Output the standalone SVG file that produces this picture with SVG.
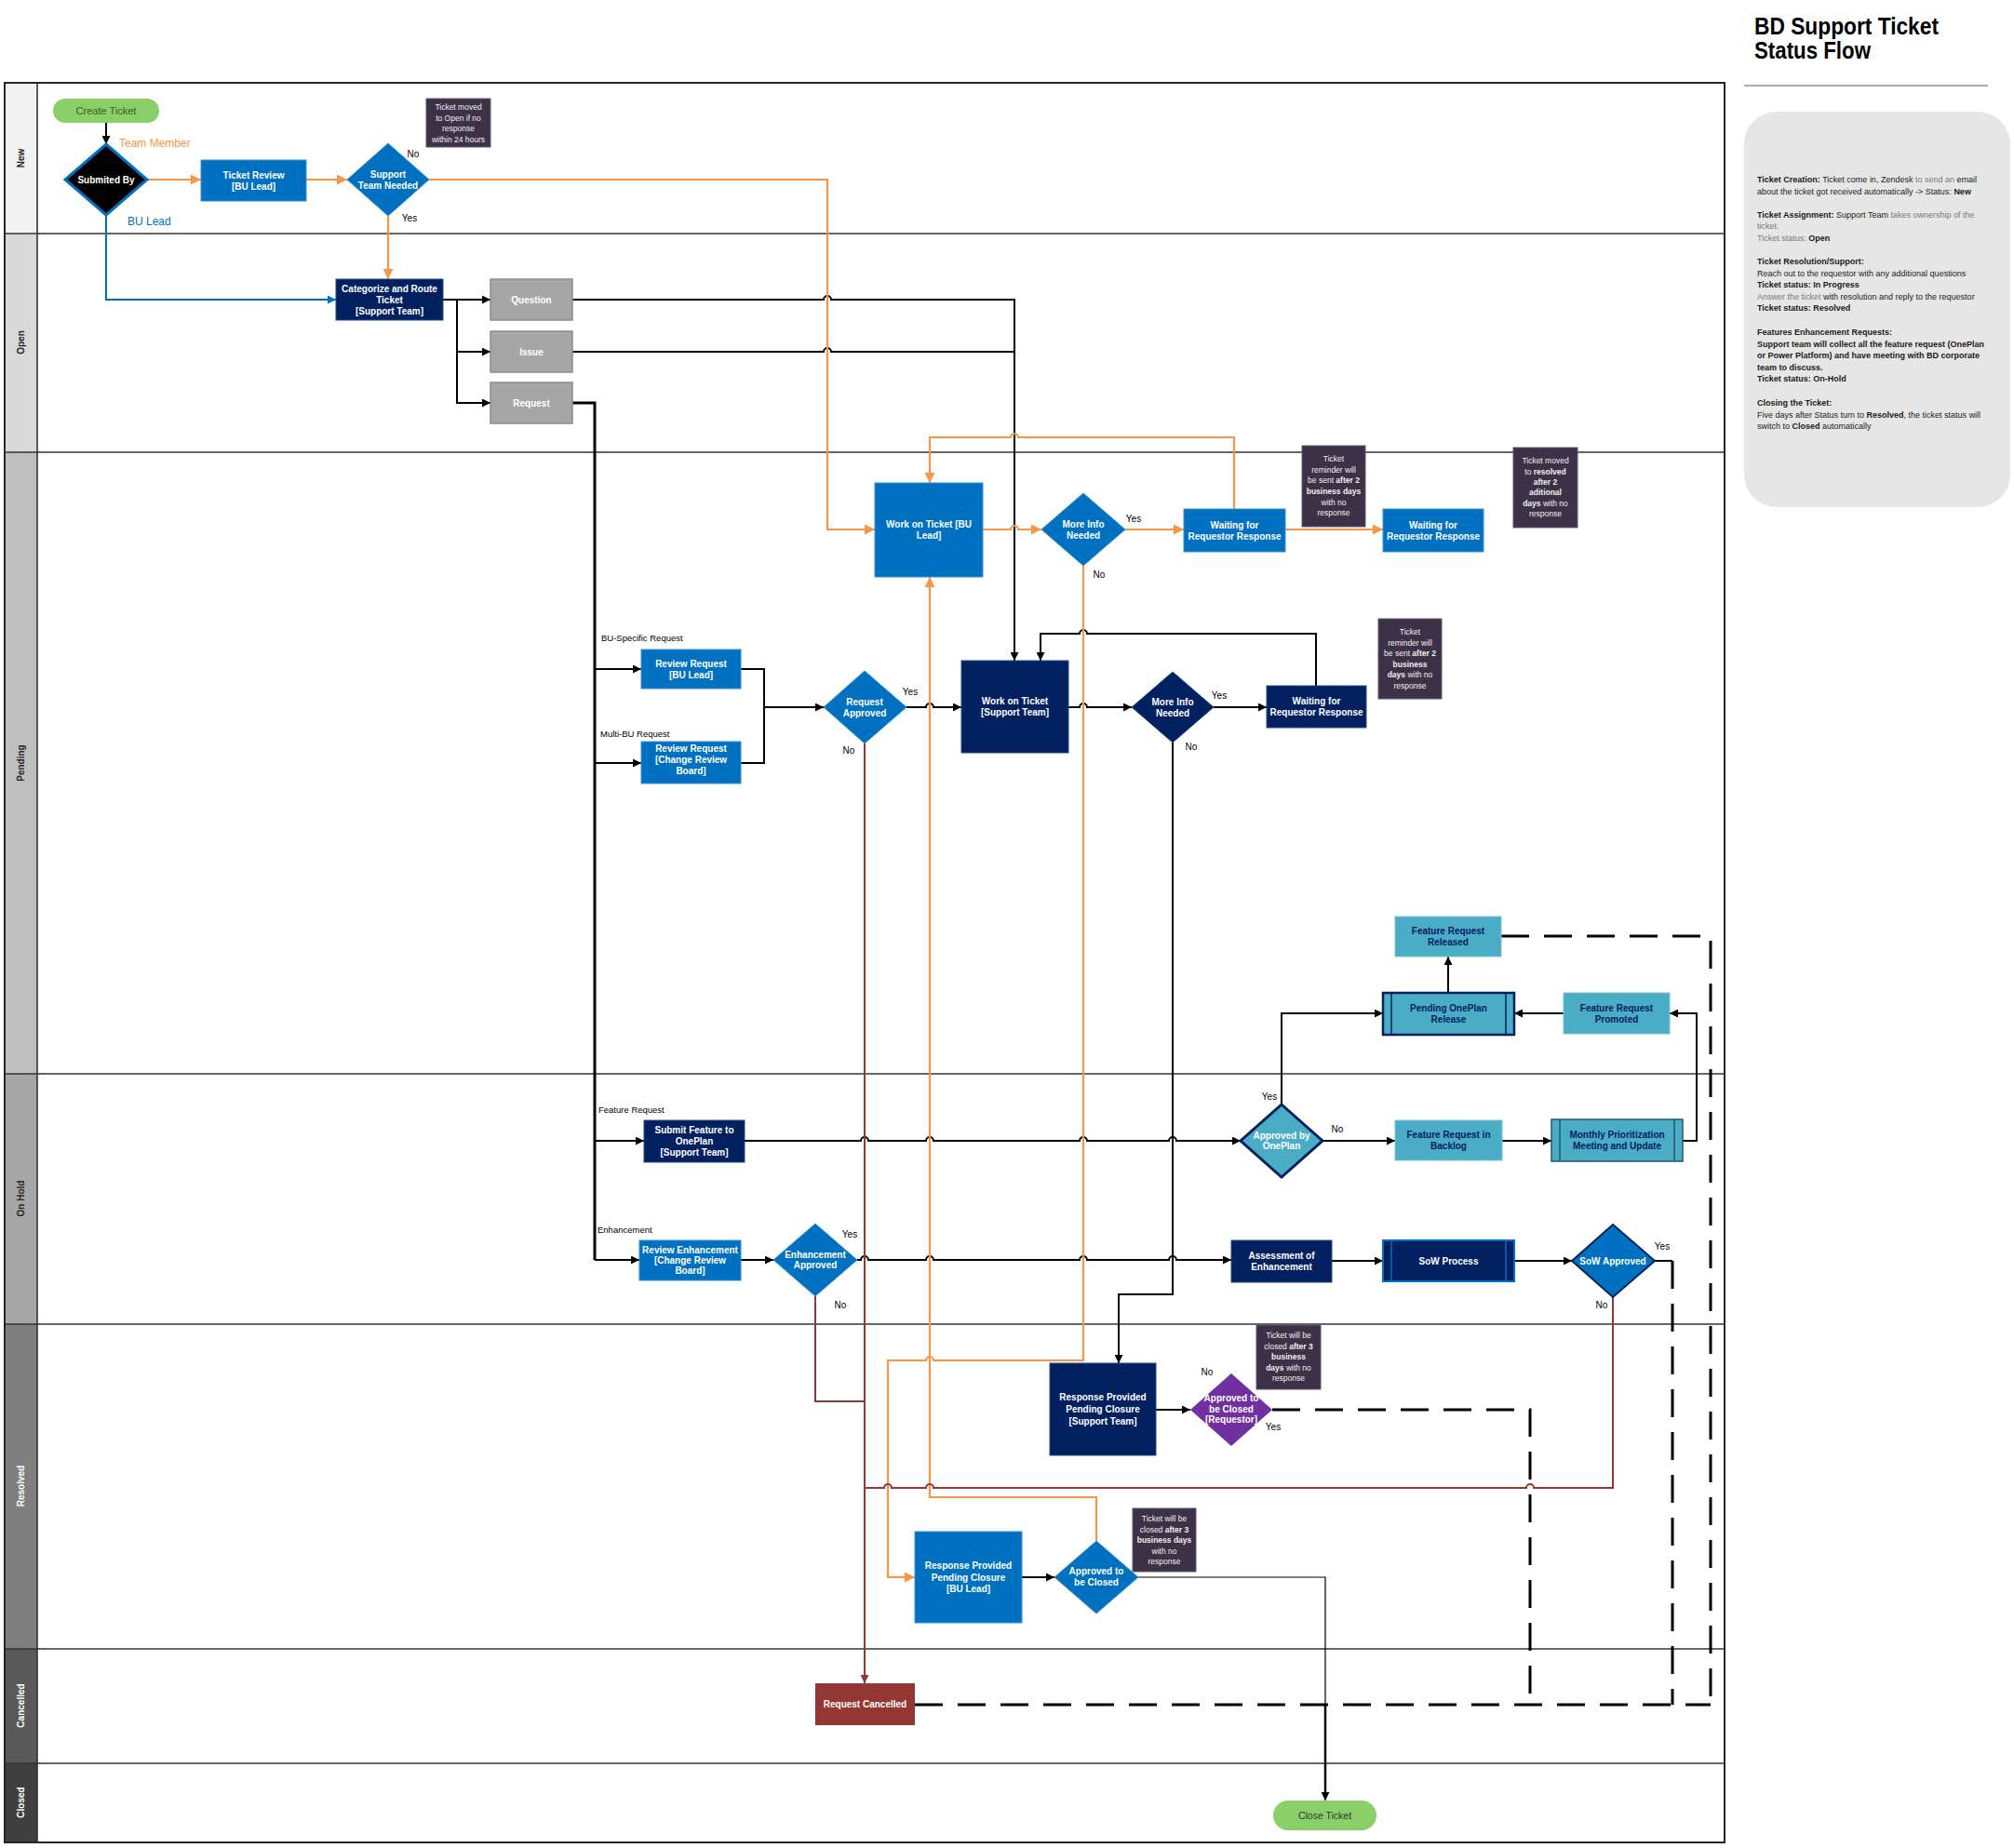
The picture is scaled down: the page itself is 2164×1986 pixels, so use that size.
<svg xmlns="http://www.w3.org/2000/svg" width="2164" height="1986" viewBox="0 0 2164 1986">
<defs>
<style>
text{font-family:"Liberation Sans",Arial,sans-serif}
.frame{fill:none;stroke:#262626;stroke-width:2}
.div{stroke:#333;stroke-width:1.6}
.lt{font-size:10px;font-weight:bold;text-anchor:middle}
.blue{fill:#0070c0;stroke:#3a8fd2;stroke-width:1}
.navy{fill:#002060;stroke:#2a4a80;stroke-width:1}
.teal{fill:#4bacc6;stroke:#7cc3d6;stroke-width:1}
.gray{fill:#a6a6a6;stroke:#8c8c8c;stroke-width:1.5}
.note{fill:#3c3146;stroke:#5e5670;stroke-width:1}
.tw{fill:#fff;font-size:10px;font-weight:bold;text-anchor:middle}
.tn{fill:#002060;font-size:10px;font-weight:bold;text-anchor:middle}
.nt{fill:#f0f0f0;font-size:8.5px;text-anchor:middle}
.lbl{fill:#000;font-size:10px;text-anchor:middle}
.bl{fill:#000;font-size:9.5px}
.leg{font-size:9px;fill:#1a1a1a}
.g{fill:#7a7a7a}
.b{font-weight:bold}
.k{fill:none;stroke:#000;stroke-width:2}
.o{fill:none;stroke:#f79646;stroke-width:2.2}
.r{fill:none;stroke:#943634;stroke-width:2}
.bu{fill:none;stroke:#0070c0;stroke-width:2}
.d{fill:none;stroke:#000;stroke-width:3;stroke-dasharray:30 16}
</style>
<marker id="ak" viewBox="0 0 10 10" refX="10" refY="5" markerWidth="11" markerHeight="9" markerUnits="userSpaceOnUse" orient="auto"><path d="M0,0 L10,5 L0,10 z" fill="#000"/></marker>
<marker id="ao" viewBox="0 0 10 10" refX="10" refY="5" markerWidth="13" markerHeight="11" markerUnits="userSpaceOnUse" orient="auto"><path d="M0,0 L10,5 L0,10 z" fill="#f79646"/></marker>
<marker id="ar" viewBox="0 0 10 10" refX="10" refY="5" markerWidth="11" markerHeight="9" markerUnits="userSpaceOnUse" orient="auto"><path d="M0,0 L10,5 L0,10 z" fill="#943634"/></marker>
<marker id="ab" viewBox="0 0 10 10" refX="10" refY="5" markerWidth="11" markerHeight="9" markerUnits="userSpaceOnUse" orient="auto"><path d="M0,0 L10,5 L0,10 z" fill="#0070c0"/></marker>
</defs>
<rect width="2164" height="1986" fill="#fff"/>

<g id="title">
<text x="1885" y="37" font-size="25" font-weight="bold" fill="#000" textLength="198" lengthAdjust="spacingAndGlyphs">BD Support Ticket</text>
<text x="1885" y="63" font-size="25" font-weight="bold" fill="#000" textLength="125" lengthAdjust="spacingAndGlyphs">Status Flow</text>
<line x1="1874" y1="92" x2="2136" y2="92" stroke="#595959" stroke-width="1"/>
</g>

<g id="legend">
<rect x="1874" y="120" width="286" height="425" rx="35" fill="#e6e6e6"/>
<text class="leg" x="1888" y="196"><tspan class="b">Ticket Creation:</tspan> Ticket come in, Zendesk <tspan class="g">to send an</tspan> email</text>
<text class="leg" x="1888" y="208.6">about the ticket got received automatically -&gt; Status:  <tspan class="b">New</tspan></text>
<text class="leg" x="1888" y="234"><tspan class="b">Ticket Assignment:</tspan> Support Team <tspan class="g">takes ownership of the</tspan></text>
<text class="leg g" x="1888" y="246.4">ticket.</text>
<text class="leg" x="1888" y="259"><tspan class="g">Ticket status:</tspan> <tspan class="b">Open</tspan></text>
<text class="leg b" x="1888" y="284">Ticket Resolution/Support:</text>
<text class="leg" x="1888" y="296.6">Reach out to the requestor with any additional questions</text>
<text class="leg b" x="1888" y="309.2">Ticket status: In Progress</text>
<text class="leg" x="1888" y="321.8"><tspan class="g">Answer the ticket</tspan> with resolution and reply to the requestor</text>
<text class="leg b" x="1888" y="334.4">Ticket status: Resolved</text>
<text class="leg b" x="1888" y="360">Features Enhancement Requests:</text>
<text class="leg b" x="1888" y="372.6">Support team will collect all the feature request (OnePlan</text>
<text class="leg b" x="1888" y="385.2">or Power Platform) and have meeting with BD corporate</text>
<text class="leg b" x="1888" y="397.8">team to discuss.</text>
<text class="leg b" x="1888" y="410.4">Ticket status: On-Hold</text>
<text class="leg b" x="1888" y="436">Closing the Ticket:</text>
<text class="leg" x="1888" y="448.6">Five days after Status turn to <tspan class="b">Resolved</tspan>, the ticket status will</text>
<text class="leg" x="1888" y="461.2">switch to <tspan class="b">Closed</tspan> automatically</text>
</g>

<g id="lanes">
<rect x="5" y="89" width="35" height="162" fill="#f2f2f2"/>
<rect x="5" y="251" width="35" height="235" fill="#d9d9d9"/>
<rect x="5" y="486" width="35" height="668" fill="#bfbfbf"/>
<rect x="5" y="1154" width="35" height="269" fill="#a6a6a6"/>
<rect x="5" y="1423" width="35" height="349" fill="#7f7f7f"/>
<rect x="5" y="1772" width="35" height="123" fill="#595959"/>
<rect x="5" y="1895" width="35" height="85" fill="#3f3f3f"/>
<line class="div" x1="5" y1="251" x2="1853" y2="251"/>
<line class="div" x1="5" y1="486" x2="1853" y2="486"/>
<line class="div" x1="5" y1="1154" x2="1853" y2="1154"/>
<line class="div" x1="5" y1="1423" x2="1853" y2="1423"/>
<line class="div" x1="5" y1="1772" x2="1853" y2="1772"/>
<line class="div" x1="5" y1="1895" x2="1853" y2="1895"/>
<line class="div" x1="40" y1="89" x2="40" y2="1980"/>
<rect class="frame" x="5" y="89" width="1848" height="1891"/>
<text class="lt" fill="#262626" transform="translate(26,170) rotate(-90)">New</text>
<text class="lt" fill="#262626" transform="translate(26,368) rotate(-90)">Open</text>
<text class="lt" fill="#262626" transform="translate(26,820) rotate(-90)">Pending</text>
<text class="lt" fill="#262626" transform="translate(26,1288) rotate(-90)">On Hold</text>
<text class="lt" fill="#fff" transform="translate(26,1597) rotate(-90)">Resolved</text>
<text class="lt" fill="#fff" transform="translate(26,1833) rotate(-90)">Cancelled</text>
<text class="lt" fill="#fff" transform="translate(26,1937) rotate(-90)">Closed</text>
</g>

<g id="connectors">
<path class="k" d="M114,132 V155" marker-end="url(#ak)"/>
<path class="k" d="M476,322 H527" marker-end="url(#ak)"/>
<path class="k" d="M491,322 V433 H527" marker-end="url(#ak)"/>
<path class="k" d="M491,378 H527" marker-end="url(#ak)"/>
<path class="k" d="M615,322 H885 a4,4 0 0 1 8,0 H1090 V710" marker-end="url(#ak)"/>
<path class="k" d="M615,378 H885 a4,4 0 0 1 8,0 H1090"/>
<path class="k" style="stroke-width:3" d="M615,433 H639 V1354"/>
<path class="k" d="M639,719 H689" marker-end="url(#ak)"/>
<path class="k" d="M639,820 H689" marker-end="url(#ak)"/>
<path class="k" d="M639,1226 H692" marker-end="url(#ak)"/>
<path class="k" d="M639,1354 H687" marker-end="url(#ak)"/>
<path class="k" d="M796,719 H821 V820 H796"/>
<path class="k" d="M821,760 H885" marker-end="url(#ak)"/>
<path class="k" d="M974,760 H995 a4,4 0 0 1 8,0 H1033" marker-end="url(#ak)"/>
<path class="k" d="M1148,760 H1160 a4,4 0 0 1 8,0 H1216" marker-end="url(#ak)"/>
<path class="k" d="M1304,760 H1361" marker-end="url(#ak)"/>
<path class="k" d="M1414,737 V681 H1168 a4,4 0 0 0 -8,0 H1118 V710" marker-end="url(#ak)"/>
<path class="k" d="M1260,798 V1391 H1202 V1465" marker-end="url(#ak)"/>
<path class="k" d="M800,1226 H925 a4,4 0 0 1 8,0 H995 a4,4 0 0 1 8,0 H1160 a4,4 0 0 1 8,0 H1256 a4,4 0 0 1 8,0 H1333" marker-end="url(#ak)"/>
<path class="k" d="M796,1354 H831" marker-end="url(#ak)"/>
<path class="k" d="M921,1354 H925 a4,4 0 0 1 8,0 H995 a4,4 0 0 1 8,0 H1160 a4,4 0 0 1 8,0 H1256 a4,4 0 0 1 8,0 H1323" marker-end="url(#ak)"/>
<path class="k" d="M1431,1355 H1486" marker-end="url(#ak)"/>
<path class="k" d="M1627,1355 H1689" marker-end="url(#ak)"/>
<path class="k" d="M1778,1355 H1797"/>
<path class="k" d="M1421,1226 H1499" marker-end="url(#ak)"/>
<path class="k" d="M1614,1226 H1667" marker-end="url(#ak)"/>
<path class="k" d="M1808,1226 H1823 V1089 H1794" marker-end="url(#ak)"/>
<path class="k" d="M1680,1089 H1627" marker-end="url(#ak)"/>
<path class="k" d="M1377,1187 V1089 H1486" marker-end="url(#ak)"/>
<path class="k" d="M1556,1067 V1028" marker-end="url(#ak)"/>
<path class="k" d="M1242,1515 H1279" marker-end="url(#ak)"/>
<path class="k" d="M1098,1695 H1133" marker-end="url(#ak)"/>
<path class="k" style="stroke-width:1.2" d="M1223,1695 H1424 V1935" marker-end="url(#ak)"/>
<path class="k" style="stroke-width:2.5" d="M1424,1832 V1926"/>
<path class="d" d="M1367,1515 H1644 V1832"/>
<path class="d" d="M1797,1355 V1832"/>
<path class="d" d="M1613,1006 H1838 V1832"/>
<path class="d" d="M983,1832 H1838"/>
<path class="o" d="M158,193 H216" marker-end="url(#ao)"/>
<path class="o" d="M329,193 H373" marker-end="url(#ao)"/>
<path class="o" d="M461,193 H889 V569 H940" marker-end="url(#ao)"/>
<path class="o" d="M417,232 V300" marker-end="url(#ao)"/>
<path class="o" d="M1056,569 H1086 a4,4 0 0 1 8,0 H1119" marker-end="url(#ao)"/>
<path class="o" d="M1209,569 H1272" marker-end="url(#ao)"/>
<path class="o" d="M1381,569 H1486" marker-end="url(#ao)"/>
<path class="o" d="M1326,547 V470 H1094 a4,4 0 0 0 -8,0 H999 V519" marker-end="url(#ao)"/>
<path class="o" d="M1164,608 V1462 H1003 a4,4 0 0 0 -8,0 H954 V1695 H983" marker-end="url(#ao)"/>
<path class="o" d="M1178,1656 V1609 H999 V620" marker-end="url(#ao)"/>
<path class="r" d="M929,799 V1809" marker-end="url(#ar)"/>
<path class="r" d="M876,1393 V1506 H929"/>
<path class="r" d="M1733,1394 V1599 H1648 a4,4 0 0 0 -8,0 H1003 a4,4 0 0 0 -8,0 H958 a4,4 0 0 0 -8,0 H929"/>
<path class="bu" d="M114,231 V322 H361" marker-end="url(#ab)"/>
</g>

<g id="labels">
<text x="128" y="158" font-size="12" fill="#f79646">Team Member</text>
<text x="137" y="242" font-size="12" fill="#0070c0">BU Lead</text>
<text class="lbl" x="444" y="169">No</text>
<text class="lbl" x="440" y="238">Yes</text>
<text class="lbl" x="978" y="747">Yes</text>
<text class="lbl" x="912" y="810">No</text>
<text class="lbl" x="1218" y="561">Yes</text>
<text class="lbl" x="1181" y="621">No</text>
<text class="lbl" x="1310" y="751">Yes</text>
<text class="lbl" x="1280" y="806">No</text>
<text class="lbl" x="1364" y="1182">Yes</text>
<text class="lbl" x="1437" y="1217">No</text>
<text class="lbl" x="913" y="1330">Yes</text>
<text class="lbl" x="903" y="1406">No</text>
<text class="lbl" x="1786" y="1343">Yes</text>
<text class="lbl" x="1721" y="1406">No</text>
<text class="lbl" x="1297" y="1478">No</text>
<text class="lbl" x="1368" y="1537">Yes</text>
<text class="bl" x="646" y="689">BU-Specific Request</text>
<text class="bl" x="645" y="792">Multi-BU Request</text>
<text class="bl" x="643" y="1196">Feature Request</text>
<text class="bl" x="642" y="1325">Enhancement</text>
</g>

<g id="n-create"><rect x="57" y="106" width="114" height="26" rx="13" fill="#8ad068"/><text x="114" y="123" font-size="11" text-anchor="middle" fill="#3a5a24">Create Ticket</text></g>
<g id="n-submitted"><polygon points="114,155 158,193 114,231 70,193" fill="#000" stroke="#0070c0" stroke-width="3"/><text class="tw" x="114" y="197" font-size="11">Submited By</text></g>
<g id="n-review"><rect class="blue" x="216" y="172" width="113" height="44"/><text class="tw" x="272.5" y="191.5">Ticket Review</text><text class="tw" x="272.5" y="203.5">[BU Lead]</text></g>
<g id="n-support"><polygon class="blue" points="417,154 461,193 417,232 373,193"/><text class="tw" x="417" y="191">Support</text><text class="tw" x="417" y="203">Team Needed</text></g>
<g id="n-note1"><rect class="note" x="458" y="106" width="69" height="52"/><text class="nt" x="492.5" y="118">Ticket moved</text><text class="nt" x="492.5" y="129.5">to Open if no</text><text class="nt" x="492.5" y="141">response</text><text class="nt" x="492.5" y="152.5">within 24 hours</text></g>
<g id="n-categorize"><rect class="navy" x="361" y="300" width="115" height="44"/><text class="tw" x="418.5" y="313.5">Categorize and Route</text><text class="tw" x="418.5" y="325.5">Ticket</text><text class="tw" x="418.5" y="337.5">[Support Team]</text></g>
<g id="n-question"><rect class="gray" x="527" y="300" width="88" height="44"/><text class="tw" x="571" y="326" font-size="11">Question</text></g>
<g id="n-issue"><rect class="gray" x="527" y="356" width="88" height="44"/><text class="tw" x="571" y="382" font-size="11">Issue</text></g>
<g id="n-request"><rect class="gray" x="527" y="411" width="88" height="44"/><text class="tw" x="571" y="437" font-size="11">Request</text></g>

<g id="n-workbu"><rect class="blue" x="940" y="519" width="116" height="101"/><text class="tw" x="998" y="567">Work on Ticket [BU</text><text class="tw" x="998" y="579">Lead]</text></g>
<g id="n-moreinfo1"><polygon class="blue" points="1164,530 1209,569 1164,608 1119,569"/><text class="tw" x="1164" y="567">More Info</text><text class="tw" x="1164" y="579">Needed</text></g>
<g id="n-wait1"><rect class="blue" x="1272" y="547" width="109" height="46"/><text class="tw" x="1326.5" y="567.5">Waiting for</text><text class="tw" x="1326.5" y="579.5">Requestor Response</text></g>
<g id="n-wait2"><rect class="blue" x="1486" y="547" width="108" height="46"/><text class="tw" x="1540" y="567.5">Waiting for</text><text class="tw" x="1540" y="579.5">Requestor Response</text></g>
<g id="n-note2"><rect class="note" x="1399" y="479" width="68" height="87"/><text class="nt" x="1433" y="496">Ticket</text><text class="nt" x="1433" y="507.5">reminder will</text><text class="nt" x="1433" y="519">be sent <tspan class="b">after 2</tspan></text><text class="nt b" x="1433" y="531">business days</text><text class="nt" x="1433" y="542.5">with no</text><text class="nt" x="1433" y="554">response</text></g>
<g id="n-note3"><rect class="note" x="1626" y="481" width="69" height="86"/><text class="nt" x="1660.5" y="498">Ticket moved</text><text class="nt" x="1660.5" y="509.5">to <tspan class="b">resolved</tspan></text><text class="nt b" x="1660.5" y="520.5">after 2</text><text class="nt b" x="1660.5" y="532">aditional</text><text class="nt" x="1660.5" y="544"><tspan class="b">days</tspan> with no</text><text class="nt" x="1660.5" y="555">response</text></g>

<g id="n-reviewbu"><rect class="blue" x="689" y="698" width="107" height="42"/><text class="tw" x="742.5" y="716.5">Review Request</text><text class="tw" x="742.5" y="728.5">[BU Lead]</text></g>
<g id="n-reviewcrb"><rect class="blue" x="689" y="797" width="107" height="45"/><text class="tw" x="742.5" y="808">Review Request</text><text class="tw" x="742.5" y="820">[Change Review</text><text class="tw" x="742.5" y="832">Board]</text></g>
<g id="n-reqapproved"><polygon class="blue" points="929,721 974,760 929,799 885,760"/><text class="tw" x="929" y="757.5">Request</text><text class="tw" x="929" y="769.5">Approved</text></g>
<g id="n-workst"><rect class="navy" x="1033" y="710" width="115" height="99"/><text class="tw" x="1090.5" y="757">Work on Ticket</text><text class="tw" x="1090.5" y="769">[Support Team]</text></g>
<g id="n-moreinfo2"><polygon class="navy" points="1260,722 1304,760 1260,798 1216,760"/><text class="tw" x="1260" y="757.5">More Info</text><text class="tw" x="1260" y="769.5">Needed</text></g>
<g id="n-wait3"><rect class="navy" x="1361" y="737" width="107" height="45"/><text class="tw" x="1414.5" y="757">Waiting for</text><text class="tw" x="1414.5" y="769">Requestor Response</text></g>
<g id="n-note4"><rect class="note" x="1481" y="665" width="68" height="86"/><text class="nt" x="1515" y="682">Ticket</text><text class="nt" x="1515" y="694">reminder will</text><text class="nt" x="1515" y="705">be sent <tspan class="b">after 2</tspan></text><text class="nt b" x="1515" y="717">business</text><text class="nt" x="1515" y="728"><tspan class="b">days</tspan> with no</text><text class="nt" x="1515" y="740">response</text></g>

<g id="n-released"><rect class="teal" x="1499" y="985" width="114" height="43"/><text class="tn" x="1556" y="1004">Feature Request</text><text class="tn" x="1556" y="1016">Released</text></g>
<g id="n-pendingop"><rect class="teal" x="1486" y="1067" width="141" height="45" style="stroke:#002060;stroke-width:2.5"/><line x1="1495" y1="1067" x2="1495" y2="1112" stroke="#002060" stroke-width="1.5"/><line x1="1618" y1="1067" x2="1618" y2="1112" stroke="#002060" stroke-width="1.5"/><text class="tn" x="1556.5" y="1087">Pending OnePlan</text><text class="tn" x="1556.5" y="1099">Release</text></g>
<g id="n-promoted"><rect class="teal" x="1680" y="1067" width="114" height="44"/><text class="tn" x="1737" y="1086.5">Feature Request</text><text class="tn" x="1737" y="1098.5">Promoted</text></g>

<g id="n-submitfeat"><rect class="navy" x="692" y="1204" width="108" height="45"/><text class="tw" x="746" y="1218">Submit Feature to</text><text class="tw" x="746" y="1230">OnePlan</text><text class="tw" x="746" y="1242">[Support Team]</text></g>
<g id="n-oneplan"><polygon points="1377,1187 1421,1226 1377,1265 1333,1226" fill="#4bacc6" stroke="#002060" stroke-width="3"/><text class="tw" x="1377" y="1223.5" font-size="9.5">Approved by</text><text class="tw" x="1377" y="1234.5" font-size="9.5">OnePlan</text></g>
<g id="n-backlog"><rect class="teal" x="1499" y="1204" width="115" height="43"/><text class="tn" x="1556.5" y="1223">Feature Request in</text><text class="tn" x="1556.5" y="1235">Backlog</text></g>
<g id="n-monthly"><rect class="teal" x="1667" y="1203" width="141" height="45" style="stroke:#215968;stroke-width:1.5"/><line x1="1676" y1="1203" x2="1676" y2="1248" stroke="#215968" stroke-width="1.5"/><line x1="1799" y1="1203" x2="1799" y2="1248" stroke="#215968" stroke-width="1.5"/><text class="tn" x="1737.5" y="1223">Monthly Prioritization</text><text class="tn" x="1737.5" y="1235">Meeting and Update</text></g>
<g id="n-reviewenh"><rect class="blue" x="687" y="1333" width="109" height="43"/><text class="tw" x="741.5" y="1346.5" font-size="8.5">Review Enhancement</text><text class="tw" x="741.5" y="1357.5" font-size="8.5">[Change Review</text><text class="tw" x="741.5" y="1368.5" font-size="8.5">Board]</text></g>
<g id="n-enhapproved"><polygon class="blue" points="876,1315 921,1354 876,1393 831,1354"/><text class="tw" x="876" y="1351.5" font-size="8.5">Enhancement</text><text class="tw" x="876" y="1362.5" font-size="8.5">Approved</text></g>
<g id="n-assess"><rect class="navy" x="1323" y="1333" width="108" height="45"/><text class="tw" x="1377" y="1353">Assessment of</text><text class="tw" x="1377" y="1365">Enhancement</text></g>
<g id="n-sow"><rect class="navy" x="1486" y="1333" width="141" height="44" style="stroke:#0070c0;stroke-width:2"/><line x1="1495" y1="1333" x2="1495" y2="1377" stroke="#0070c0" stroke-width="1.5"/><line x1="1618" y1="1333" x2="1618" y2="1377" stroke="#0070c0" stroke-width="1.5"/><text class="tw" x="1556.5" y="1358.5">SoW Process</text></g>
<g id="n-sowapproved"><polygon points="1733,1316 1778,1355 1733,1394 1689,1355" fill="#0070c0" stroke="#002060" stroke-width="2"/><text class="tw" x="1733" y="1358.5" font-size="9.5">SoW Approved</text></g>

<g id="n-respst"><rect class="navy" x="1128" y="1465" width="114" height="99"/><text class="tw" x="1185" y="1504.5">Response Provided</text><text class="tw" x="1185" y="1517.5">Pending Closure</text><text class="tw" x="1185" y="1530.5">[Support Team]</text></g>
<g id="n-approvedreq"><polygon points="1323,1476 1367,1515 1323,1554 1279,1515" fill="#7030a0"/><text class="tw" x="1323" y="1506" font-size="9">Approved to</text><text class="tw" x="1323" y="1517.5" font-size="9">be Closed</text><text class="tw" x="1323" y="1529" font-size="9">[Requestor]</text></g>
<g id="n-note5"><rect class="note" x="1350" y="1424" width="69" height="69"/><text class="nt" x="1384.5" y="1438">Ticket will be</text><text class="nt" x="1384.5" y="1450">closed <tspan class="b">after 3</tspan></text><text class="nt b" x="1384.5" y="1461">business</text><text class="nt" x="1384.5" y="1473"><tspan class="b">days</tspan> with no</text><text class="nt" x="1384.5" y="1484">response</text></g>
<g id="n-respbu"><rect class="blue" x="983" y="1646" width="115" height="98"/><text class="tw" x="1040.5" y="1685.5">Response Provided</text><text class="tw" x="1040.5" y="1698.5">Pending Closure</text><text class="tw" x="1040.5" y="1710.5">[BU Lead]</text></g>
<g id="n-approvedbu"><polygon class="blue" points="1178,1656 1223,1695 1178,1734 1133,1695"/><text class="tw" x="1178" y="1692" font-size="9.5">Approved to</text><text class="tw" x="1178" y="1704" font-size="9.5">be Closed</text></g>
<g id="n-note6"><rect class="note" x="1217" y="1621" width="68" height="68"/><text class="nt" x="1251" y="1635">Ticket will be</text><text class="nt" x="1251" y="1647">closed <tspan class="b">after 3</tspan></text><text class="nt b" x="1251" y="1658">business days</text><text class="nt" x="1251" y="1670">with no</text><text class="nt" x="1251" y="1681">response</text></g>

<g id="n-cancelled"><rect x="876" y="1809" width="107" height="45" fill="#943634"/><text class="tw" x="929.5" y="1835" font-size="9.5">Request Cancelled</text></g>
<g id="n-close"><rect x="1368" y="1935" width="111" height="32" rx="16" fill="#8ad068"/><text x="1423.5" y="1955" font-size="10.5" text-anchor="middle" fill="#333">Close Ticket</text></g>
</svg>
